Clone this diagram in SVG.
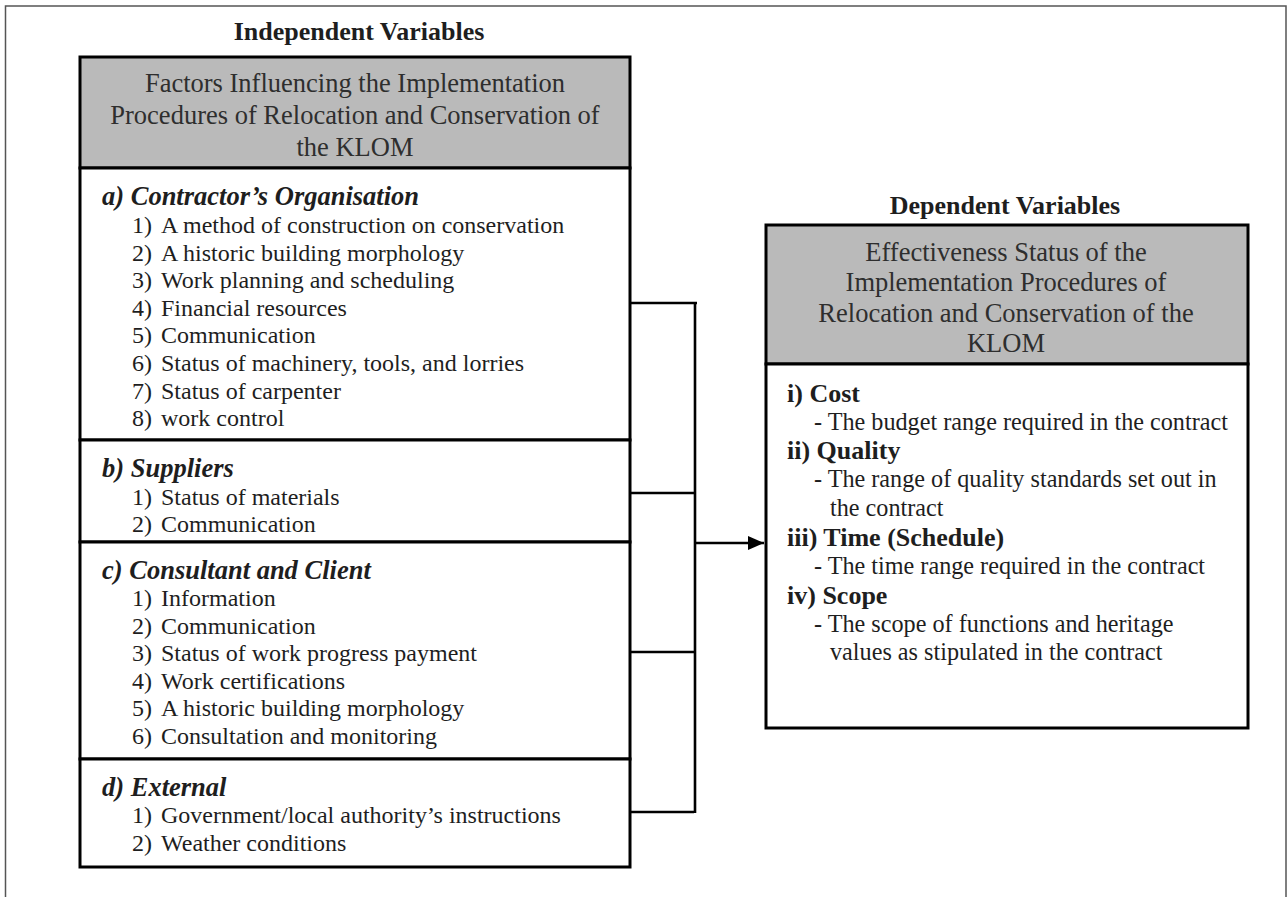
<svg xmlns="http://www.w3.org/2000/svg" width="1287" height="897" viewBox="0 0 1287 897">
<defs>
<marker id="arr" markerWidth="16" markerHeight="14" refX="16" refY="7" orient="auto" markerUnits="userSpaceOnUse">
<path d="M0,0 L16,7 L0,14 Z" fill="#000"/>
</marker>
</defs>
<style>
text{font-family:"Liberation Serif","Times New Roman",serif;fill:#1e1e1e}
.title{font-size:26px;font-weight:bold;text-anchor:middle}
.hdr{font-size:26.5px;text-anchor:middle;fill:#2e2e2e}
.sec{font-size:26.5px;font-weight:bold;font-style:italic}
.item{font-size:24px}
.rh{font-size:26px;font-weight:bold}
.ri{font-size:24.2px}
.gray{fill:#bababa;stroke:#000;stroke-width:3}
.box{fill:#fff;stroke:#000;stroke-width:3}
.conn{fill:none;stroke:#000;stroke-width:2.6}
</style>
<rect width="1287" height="897" fill="#fff"/>
<path d="M5.5,897 V6 H1286 V897" fill="none" stroke="#555" stroke-width="1.5"/>

<g id="independent">
<text class="title" x="359" y="40">Independent Variables</text>
<rect class="gray" x="80" y="57" width="550" height="111"/>
<text class="hdr" x="355" y="92">Factors Influencing the Implementation</text>
<text class="hdr" x="355" y="124">Procedures of Relocation and Conservation of</text>
<text class="hdr" x="355" y="156">the KLOM</text>
</g>

<g id="contractor">
<rect class="box" x="80" y="168" width="550" height="272"/>
<text class="sec" x="102" y="205">a) Contractor’s Organisation</text>
<text class="item" y="233"><tspan x="132">1)</tspan><tspan x="161">A method of construction on conservation</tspan></text>
<text class="item" y="260.6"><tspan x="132">2)</tspan><tspan x="161">A historic building morphology</tspan></text>
<text class="item" y="288.2"><tspan x="132">3)</tspan><tspan x="161">Work planning and scheduling</tspan></text>
<text class="item" y="315.8"><tspan x="132">4)</tspan><tspan x="161">Financial resources</tspan></text>
<text class="item" y="343.4"><tspan x="132">5)</tspan><tspan x="161">Communication</tspan></text>
<text class="item" y="371"><tspan x="132">6)</tspan><tspan x="161">Status of machinery, tools, and lorries</tspan></text>
<text class="item" y="398.6"><tspan x="132">7)</tspan><tspan x="161">Status of carpenter</tspan></text>
<text class="item" y="426.2"><tspan x="132">8)</tspan><tspan x="161">work control</tspan></text>
</g>

<g id="suppliers">
<rect class="box" x="80" y="440" width="550" height="102"/>
<text class="sec" x="102" y="477">b) Suppliers</text>
<text class="item" y="505"><tspan x="132">1)</tspan><tspan x="161">Status of materials</tspan></text>
<text class="item" y="532"><tspan x="132">2)</tspan><tspan x="161">Communication</tspan></text>
</g>

<g id="consultant">
<rect class="box" x="80" y="542" width="550" height="217"/>
<text class="sec" x="102" y="579">c) Consultant and Client</text>
<text class="item" y="606"><tspan x="132">1)</tspan><tspan x="161">Information</tspan></text>
<text class="item" y="634"><tspan x="132">2)</tspan><tspan x="161">Communication</tspan></text>
<text class="item" y="661"><tspan x="132">3)</tspan><tspan x="161">Status of work progress payment</tspan></text>
<text class="item" y="689"><tspan x="132">4)</tspan><tspan x="161">Work certifications</tspan></text>
<text class="item" y="716"><tspan x="132">5)</tspan><tspan x="161">A historic building morphology</tspan></text>
<text class="item" y="744"><tspan x="132">6)</tspan><tspan x="161">Consultation and monitoring</tspan></text>
</g>

<g id="external">
<rect class="box" x="80" y="759" width="550" height="108"/>
<text class="sec" x="102" y="796">d) External</text>
<text class="item" y="823"><tspan x="132">1)</tspan><tspan x="161">Government/local authority’s instructions</tspan></text>
<text class="item" y="851"><tspan x="132">2)</tspan><tspan x="161">Weather conditions</tspan></text>
</g>

<g id="dependent">
<text class="title" x="1005" y="214">Dependent Variables</text>
<rect class="gray" x="766" y="225" width="482" height="139"/>
<text class="hdr" x="1006" y="261">Effectiveness Status of the</text>
<text class="hdr" x="1006" y="291">Implementation Procedures of</text>
<text class="hdr" x="1006" y="322">Relocation and Conservation of the</text>
<text class="hdr" x="1006" y="352">KLOM</text>
<rect class="box" x="766" y="364" width="482" height="364"/>
<text class="rh" x="787" y="402">i) Cost</text>
<text class="ri" x="814" y="430">- The budget range required in the contract</text>
<text class="rh" x="787" y="459">ii) Quality</text>
<text class="ri" x="814" y="487">- The range of quality standards set out in</text>
<text class="ri" x="830" y="516">the contract</text>
<text class="rh" x="787" y="546">iii) Time (Schedule)</text>
<text class="ri" x="814" y="574">- The time range required in the contract</text>
<text class="rh" x="787" y="604">iv) Scope</text>
<text class="ri" x="814" y="632">- The scope of functions and heritage</text>
<text class="ri" x="830" y="660">values as stipulated in the contract</text>
</g>

<g id="connectors">
<path class="conn" d="M630,303 H697"/>
<path class="conn" d="M630,493 H694"/>
<path class="conn" d="M630,652 H694"/>
<path class="conn" d="M630,812 H694"/>
<path class="conn" d="M695,302 V813"/>
<path class="conn" d="M695,543 H764" marker-end="url(#arr)"/>
</g>
</svg>
